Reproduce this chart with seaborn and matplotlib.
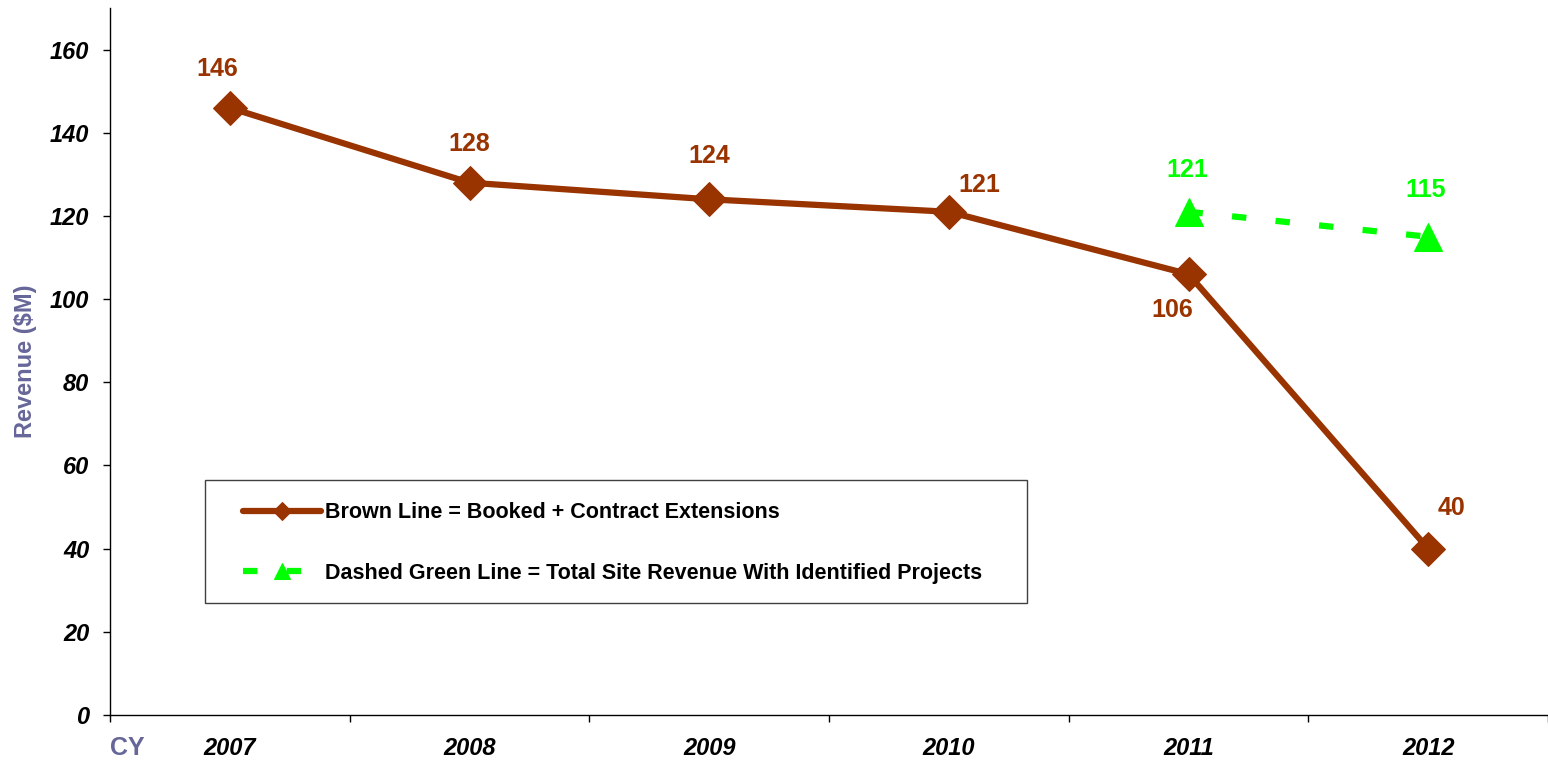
import numpy as np
import pandas as pd
import matplotlib
matplotlib.use("Agg")
import matplotlib.pyplot as plt
import matplotlib.patches as mpatches
import seaborn as sns

# chart data
years = ["2007", "2008", "2009", "2010", "2011", "2012"]
booked = [146, 128, 124, 121, 106, 40]
green_years = ["2011", "2012"]
green_vals = [121, 115]
y_ticks = [0, 20, 40, 60, 80, 100, 120, 140, 160]

brown = "#993300"
green = "#00FF00"
slate = "#666699"

sns.set_style("ticks")
plt.rcParams["font.family"] = ["Liberation Sans", "DejaVu Sans"]
plt.rcParams["text.color"] = "black"
plt.rcParams["xtick.color"] = "black"
plt.rcParams["ytick.color"] = "black"

df_b = pd.DataFrame({"pos": [years.index(y) for y in years], "val": booked})
df_g = pd.DataFrame({"pos": [years.index(y) for y in green_years], "val": green_vals})

fig = plt.figure(figsize=(15.48, 7.65), dpi=100)
ax = fig.add_axes([110 / 1548, 1 - 715 / 765, 1 - 110 / 1548, (715 - 8) / 765])

# brown line
sns.lineplot(data=df_b, x="pos", y="val", ax=ax, color=brown, linewidth=4.5,
             marker="D", markersize=17, markeredgecolor=brown,
             label="Brown Line = Booked + Contract Extensions")

# dashed green line
sns.lineplot(data=df_g, x="pos", y="val", ax=ax, color=green, linewidth=4.5,
             marker="^", markersize=20, markeredgecolor=green,
             label="Dashed Green Line = Total Site Revenue With Identified Projects")
ax.lines[-1].set_dashes((2.3, 4.7))

# value labels
b_offsets = [(-9, 28), (0, 28), (0, 31), (22, 19), (-12, -26), (17, 29)]
for i, v in enumerate(booked):
    ax.annotate(str(v), (i, v), xytext=b_offsets[i], textcoords="offset points",
                ha="center", va="center", fontsize=18, fontweight="bold", color=brown)
g_offsets = [(-1, 30), (-2, 34)]
for i, v in enumerate(green_vals):
    ax.annotate(str(v), (df_g["pos"][i], v), xytext=g_offsets[i], textcoords="offset points",
                ha="center", va="center", fontsize=18, fontweight="bold", color=green)

# axes formatting
ax.set_xlim(-0.5, 5.5)
ax.set_ylim(0, 170)
ax.set_yticks(y_ticks)
ax.set_yticklabels([str(t) for t in y_ticks], fontsize=17, fontweight="bold", fontstyle="italic")
ax.tick_params(axis="y", length=5, width=1, pad=10, color="black")

ax.set_xticks(np.arange(-0.5, 5.6, 1.0))
ax.set_xticklabels([])
ax.set_xticks(np.arange(len(years)), minor=True)
ax.set_xticklabels(years, minor=True, fontsize=17, fontweight="bold", fontstyle="italic")
ax.tick_params(axis="x", which="major", length=5, width=1, color="black")
ax.tick_params(axis="x", which="minor", length=0, pad=16)

ax.set_xlabel("")
ax.set_ylabel("Revenue ($M)", fontsize=17, fontweight="bold", color=slate, labelpad=9)
ax.text(0.012, -0.047, "CY", transform=ax.transAxes, ha="center", va="center",
        fontsize=18, fontweight="bold", color=slate)

sns.despine(ax=ax, top=True, right=True)
for s in ["left", "bottom"]:
    ax.spines[s].set_color("black")
    ax.spines[s].set_linewidth(1)
ax.grid(False)

# legend box drawn as a plain rectangle, legend entries placed inside it
box = mpatches.Rectangle((0.0661, 0.1584), 0.5716, 0.174, transform=ax.transAxes,
                         facecolor="white", edgecolor="#404040", linewidth=1, zorder=4)
ax.add_patch(box)
leg = ax.legend(loc="upper left", bbox_to_anchor=(0.0925, 0.301), frameon=False,
                fontsize=15.5, handlelength=3.6, handletextpad=0.2, labelspacing=1.85,
                borderpad=0, borderaxespad=0, markerscale=0.55)
leg.set_zorder(5)
for t in leg.get_texts():
    t.set_fontweight("bold")
    t.set_color("black")

fig.savefig("out.png", dpi=100)
